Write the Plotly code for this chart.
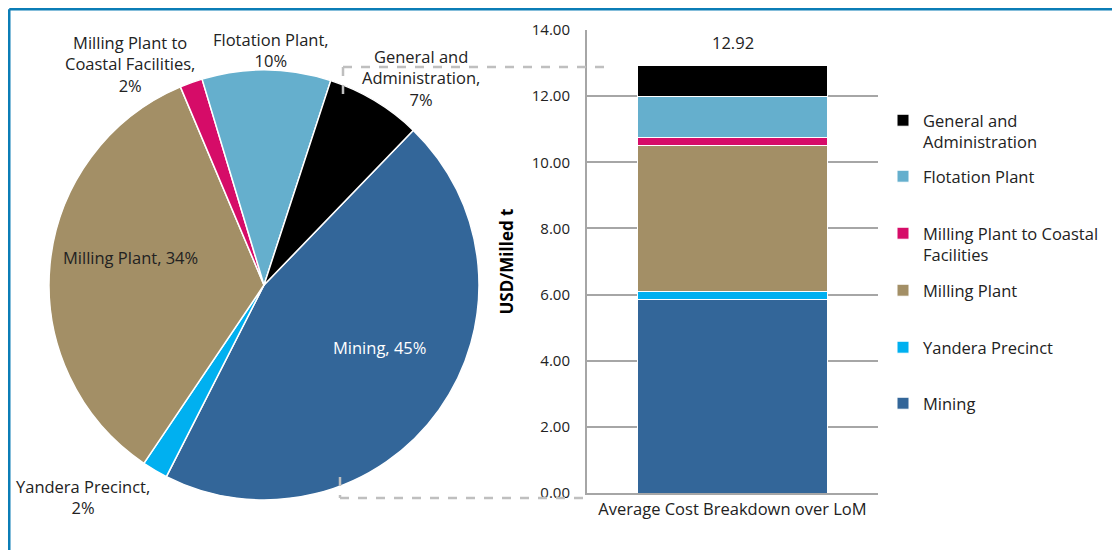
import plotly.graph_objects as go

# the page body has an 8px margin, so the figure is drawn 8px smaller and all
# pixel positions below are given in screen coordinates, shifted by OFF
W, H, OFF = 1112, 542, 8

categories = ["Mining", "Yandera Precinct", "Milling Plant",
              "Milling Plant to Coastal Facilities", "Flotation Plant",
              "General and Administration"]
legend_names = ["Mining", "Yandera Precinct", "Milling Plant",
                "Milling Plant to Coastal<br>Facilities", "Flotation Plant",
                "General and<br>Administration"]
pie_names = ["Mining, ", "Yandera Precinct,<br>", "Milling Plant, ",
             "Milling Plant to<br>Coastal Facilities,<br>", "Flotation Plant,<br>",
             "General and<br>Administration,<br>"]
cost_usd_t = [5.85, 0.25, 4.42, 0.22, 1.25, 0.93]
bar_label = "Average Cost Breakdown over LoM"
colors = ["#336699", "#00B0F0", "#A38F66", "#D60C68", "#65AFCD", "#000000"]

FONT = "Open Sans"
TXT = "#222"
GRID = "#A6A6A6"
FS = 16.5


def px_x(v):
    return (v - OFF) / W


def px_y(v):
    return 1 - (v - OFF) / H


fig = go.Figure()

# pie (labels are placed as annotations, like the Excel data labels)
fig.add_trace(go.Pie(
    labels=categories, values=cost_usd_t, textinfo="none",
    marker=dict(colors=colors, line=dict(color="white", width=1.5)),
    sort=False, direction="clockwise", rotation=44,
    domain=dict(x=[px_x(49), px_x(479)], y=[px_y(500), px_y(70)]),
    showlegend=False, hoverinfo="label+value+percent",
))

total = sum(cost_usd_t)
label_pos = [(380, 347), (83, 497), (130, 257), (130, 64), (271, 50), (421, 78)]
label_col = ["white", TXT, TXT, TXT, TXT, TXT]
for name, val, (lx, ly), c in zip(pie_names, cost_usd_t, label_pos, label_col):
    fig.add_annotation(x=px_x(lx), y=px_y(ly), xref="paper", yref="paper",
                       xanchor="center", yanchor="middle",
                       text=f"{name}{round(val / total * 100):.0f}%", showarrow=False,
                       align="center", font=dict(family=FONT, size=FS, color=c))

# stacked bar, one trace per cost centre, each with its own legend box
legend_top = [405, 349, 292, 235, 178, 122]
for i, (name, val) in enumerate(zip(legend_names, cost_usd_t)):
    lg = "legend" if i == 0 else f"legend{i + 1}"
    fig.add_trace(go.Bar(
        x=[bar_label], y=[val], name=name, legend=lg,
        marker=dict(color=colors[i], line=dict(color="white", width=1)),
        width=0.65,
    ))
    fig.update_layout(**{lg: dict(
        x=px_x(883), y=px_y(legend_top[i] - 19), xanchor="left", yanchor="top",
        valign="top", bgcolor="rgba(0,0,0,0)",
        font=dict(family=FONT, size=FS, color=TXT),
    )})

fig.add_annotation(x=bar_label, y=total, text=f"{total:.2f}", showarrow=False,
                   yanchor="bottom", yshift=10, font=dict(family=FONT, size=FS, color=TXT))

fig.update_layout(
    barmode="stack",
    width=W, height=H,
    margin=dict(l=0, r=0, t=0, b=0),
    paper_bgcolor="white", plot_bgcolor="white",
    font=dict(family=FONT, size=FS, color=TXT),
    xaxis=dict(domain=[px_x(587), px_x(878)], range=[-0.5, 0.5], automargin=False,
               showline=True, linecolor=GRID, linewidth=2, ticks="",
               tickfont=dict(size=FS)),
    yaxis=dict(domain=[px_y(493), px_y(30)], range=[0, 14], dtick=2, automargin=False,
               tickformat=".2f", showgrid=True, gridcolor=GRID, gridwidth=1.5,
               showline=True, linecolor=GRID, linewidth=2, zeroline=False,
               ticklabelstandoff=12, tickfont=dict(size=15),
               title=dict(text="<b>USD/Milled t</b>", standoff=14,
                          font=dict(size=17, color="black"))),
)

# dashed connectors between pie and bar
dash = dict(color="#BFBFBF", width=2.5, dash="dash")
fig.add_shape(type="line", xref="paper", yref="paper", x0=px_x(343), x1=px_x(608),
              y0=px_y(67), y1=px_y(67), line=dash)
fig.add_shape(type="line", xref="paper", yref="paper", x0=px_x(343), x1=px_x(343),
              y0=px_y(67), y1=px_y(97), line=dash)
fig.add_shape(type="line", xref="paper", yref="paper", x0=px_x(340), x1=px_x(590),
              y0=px_y(498), y1=px_y(498), line=dash)
fig.add_shape(type="line", xref="paper", yref="paper", x0=px_x(340), x1=px_x(340),
              y0=px_y(477), y1=px_y(498), line=dash)

# outer frame (cropped at right and bottom)
frame = dict(color="#0B7DB6", width=2.5)
fig.add_shape(type="line", xref="paper", yref="paper", x0=px_x(9.25), x1=1,
              y0=px_y(9.25), y1=px_y(9.25), line=frame)
fig.add_shape(type="line", xref="paper", yref="paper", x0=px_x(9.25), x1=px_x(9.25),
              y0=px_y(9.25), y1=0, line=frame)

fig.write_html("out.html")
